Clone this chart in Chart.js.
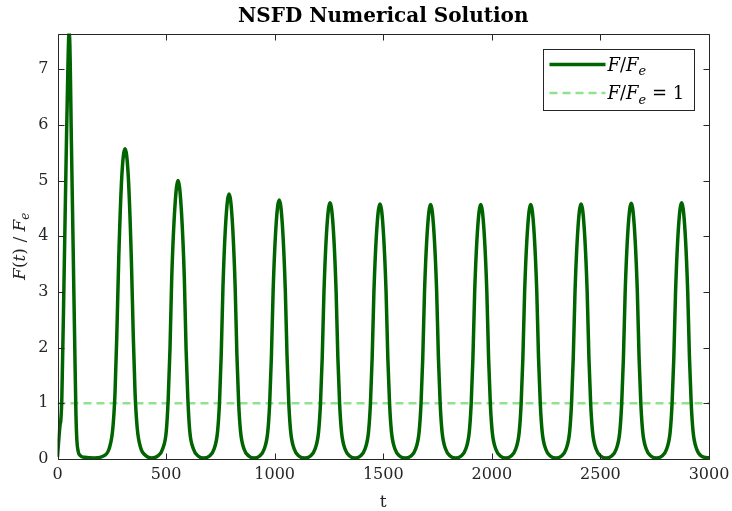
<!DOCTYPE html>
<html>
<head>
<meta charset="utf-8">
<script src="https://cdn.jsdelivr.net/npm/chart.js@4/dist/chart.umd.min.js"></script>
<style>
  html, body { margin: 0; padding: 0; background: #ffffff; }
  #wrap { width: 732px; height: 511px; }
</style>
</head>
<body>
<div id="wrap"><canvas id="chart" width="732" height="511"></canvas></div>
<script>
// NSFD solution F(t)/F_e, one row per pulse
const timeSteps = [
  0, 12, 15, 20, 30, 40, 48, 53, 56, 64, 72, 80, 85, 89, 95, 105, 125, 170,
  215, 239, 255, 265, 273, 282, 296, 311, 326, 340, 349, 357, 367, 383, 407, 433,
  461, 485, 501, 510, 518, 526, 541, 555, 569, 584, 592, 600, 609, 625, 649, 672,
  698, 721, 737, 746, 754, 762, 776, 790, 804, 818, 826, 834, 843, 859, 882, 906,
  929, 952, 968, 977, 985, 993, 1007, 1021, 1035, 1049, 1057, 1065, 1074, 1090, 1113, 1138,
  1163, 1186, 1202, 1211, 1219, 1227, 1241, 1255, 1269, 1283, 1291, 1299, 1308, 1324, 1347, 1370,
  1393, 1416, 1432, 1441, 1449, 1457, 1471, 1485, 1499, 1513, 1521, 1529, 1538, 1554, 1577, 1601,
  1626, 1649, 1665, 1674, 1682, 1690, 1704, 1718, 1732, 1746, 1754, 1762, 1771, 1787, 1810, 1833,
  1857, 1880, 1896, 1905, 1913, 1921, 1935, 1949, 1963, 1977, 1985, 1993, 2002, 2018, 2041, 2064,
  2087, 2110, 2126, 2135, 2143, 2151, 2165, 2179, 2193, 2207, 2215, 2223, 2232, 2248, 2271, 2295,
  2319, 2342, 2358, 2367, 2375, 2383, 2397, 2411, 2425, 2439, 2447, 2455, 2464, 2480, 2503, 2526,
  2550, 2573, 2589, 2598, 2606, 2614, 2628, 2642, 2656, 2670, 2678, 2686, 2695, 2711, 2734, 2758,
  2782, 2805, 2821, 2830, 2838, 2846, 2860, 2874, 2888, 2902, 2910, 2918, 2927, 2943, 2966, 3000
];
const forceRatio = [
  0.04, 0.62, 0.68, 1.10, 3.20, 5.45, 7.05, 7.64, 7.55, 5.70, 3.80, 1.90, 0.80, 0.35, 0.14, 0.06, 0.03, 0.02,
  0.06, 0.20, 0.56, 1.20, 2.20, 3.60, 5.07, 5.57, 5.07, 3.60, 2.20, 1.20, 0.56, 0.20, 0.06, 0.02,
  0.05, 0.19, 0.50, 1.10, 1.98, 3.25, 4.55, 5.00, 4.55, 3.25, 1.98, 1.10, 0.50, 0.19, 0.05, 0.02,
  0.05, 0.18, 0.49, 1.02, 1.88, 3.10, 4.33, 4.76, 4.33, 3.10, 1.88, 1.02, 0.49, 0.18, 0.05, 0.02,
  0.05, 0.18, 0.48, 1.00, 1.84, 3.03, 4.23, 4.65, 4.23, 3.03, 1.84, 1.00, 0.48, 0.18, 0.05, 0.02,
  0.05, 0.18, 0.48, 1.00, 1.82, 3.00, 4.19, 4.60, 4.19, 3.00, 1.82, 1.00, 0.48, 0.18, 0.05, 0.02,
  0.05, 0.18, 0.48, 1.00, 1.82, 3.00, 4.17, 4.58, 4.17, 3.00, 1.82, 1.00, 0.48, 0.18, 0.05, 0.02,
  0.05, 0.18, 0.48, 1.00, 1.82, 3.00, 4.16, 4.57, 4.16, 3.00, 1.82, 1.00, 0.48, 0.18, 0.05, 0.02,
  0.05, 0.18, 0.48, 1.00, 1.82, 3.00, 4.16, 4.57, 4.16, 3.00, 1.82, 1.00, 0.48, 0.18, 0.05, 0.02,
  0.05, 0.18, 0.48, 1.00, 1.82, 3.00, 4.16, 4.57, 4.16, 3.00, 1.82, 1.00, 0.48, 0.18, 0.05, 0.02,
  0.05, 0.18, 0.48, 1.00, 1.82, 3.00, 4.17, 4.58, 4.17, 3.00, 1.82, 1.00, 0.48, 0.18, 0.05, 0.02,
  0.05, 0.18, 0.48, 1.00, 1.82, 3.00, 4.18, 4.59, 4.18, 3.00, 1.82, 1.00, 0.48, 0.18, 0.05, 0.02,
  0.05, 0.18, 0.48, 1.00, 1.82, 3.00, 4.19, 4.60, 4.19, 3.00, 1.82, 1.00, 0.48, 0.18, 0.05, 0.02
];
// equilibrium reference line F/F_e = 1
const equilibriumT = [0, 3000];
const equilibriumF = [1, 1];

const xTicks = [0, 500, 1000, 1500, 2000, 2500, 3000];
const yTicks = [0, 1, 2, 3, 4, 5, 6, 7];

const SERIF = "'DejaVu Serif', 'Liberation Serif', serif";
const AXIS_COLOR = '#262626';

function toPoints(xs, ys) {
  return xs.map((x, i) => ({ x: x, y: ys[i] }));
}

// draws a small math string: letters italic, "_c" as italic subscript, rest upright
function mathTokens(str) {
  const out = [];
  for (let i = 0; i < str.length; i++) {
    const ch = str[i];
    if (ch === '_' && i + 1 < str.length) {
      out.push({ t: str[i + 1], italic: true, sub: true });
      i++;
    } else {
      out.push({ t: ch, italic: /[A-Za-z]/.test(ch), sub: false });
    }
  }
  return out;
}
function mathFont(tok, size) {
  const s = tok.sub ? Math.round(size * 0.7) : size;
  return (tok.italic ? 'italic ' : '') + s + 'px ' + SERIF;
}
function mathWidth(ctx, str, size) {
  let w = 0;
  for (const tok of mathTokens(str)) {
    ctx.font = mathFont(tok, size);
    w += ctx.measureText(tok.t).width;
  }
  return w;
}
function drawMath(ctx, str, x, y, size, align) {
  let cx = x;
  if (align === 'center') cx -= mathWidth(ctx, str, size) / 2;
  ctx.textBaseline = 'alphabetic';
  ctx.textAlign = 'left';
  for (const tok of mathTokens(str)) {
    ctx.font = mathFont(tok, size);
    ctx.fillText(tok.t, cx, y + (tok.sub ? size * 0.25 : 0));
    cx += ctx.measureText(tok.t).width;
  }
}

// axes box, inward ticks, y label and legend in the MATLAB style
const axesDecor = {
  id: 'axesDecor',
  afterDraw(chart) {
    const ctx = chart.ctx;
    const ca = chart.chartArea;
    const xs = chart.scales.x, ys = chart.scales.y;
    const L = Math.round(ca.left) + 0.5, R = Math.round(ca.right) + 0.5;
    const T = Math.round(ca.top) + 0.5, B = Math.round(ca.bottom) + 0.5;
    const tick = 6;
    ctx.save();
    ctx.strokeStyle = AXIS_COLOR;
    ctx.lineWidth = 1;
    ctx.beginPath();
    ctx.rect(L, T, R - L, B - T);
    for (const v of xTicks) {
      const px = Math.round(xs.getPixelForValue(v)) + 0.5;
      ctx.moveTo(px, B); ctx.lineTo(px, B - tick);
      ctx.moveTo(px, T); ctx.lineTo(px, T + tick);
    }
    for (const v of yTicks) {
      const py = Math.round(ys.getPixelForValue(v)) + 0.5;
      ctx.moveTo(L, py); ctx.lineTo(L + tick, py);
      ctx.moveTo(R, py); ctx.lineTo(R - tick, py);
    }
    ctx.stroke();

    // y-axis title
    ctx.fillStyle = AXIS_COLOR;
    ctx.save();
    ctx.translate(25, (ca.top + ca.bottom) / 2);
    ctx.rotate(-Math.PI / 2);
    drawMath(ctx, 'F(t) / F_e', 0, 0, 17, 'center');
    ctx.restore();

    // legend
    const bx = Math.round(ca.right) - 165.5, by = Math.round(ca.top) + 15.5;
    const bw = 151, bh = 61;
    ctx.fillStyle = '#ffffff';
    ctx.fillRect(bx, by, bw, bh);
    ctx.strokeStyle = AXIS_COLOR;
    ctx.lineWidth = 1;
    ctx.strokeRect(bx, by, bw, bh);
    chart.data.datasets.forEach((ds, i) => {
      const rowY = by + 15 + i * 28.5;
      ctx.save();
      ctx.strokeStyle = ds.borderColor;
      ctx.lineWidth = ds.borderWidth;
      ctx.setLineDash(ds.borderDash || []);
      ctx.beginPath();
      ctx.moveTo(bx + 6, rowY);
      ctx.lineTo(bx + 62, rowY);
      ctx.stroke();
      ctx.restore();
      ctx.fillStyle = '#000000';
      drawMath(ctx, ds.label, bx + 64, rowY + 6, 18, 'left');
    });
    ctx.restore();
  }
};

new Chart(document.getElementById('chart'), {
  type: 'line',
  data: {
    datasets: [
      {
        label: 'F/F_e',
        data: toPoints(timeSteps, forceRatio),
        borderColor: '#006400',
        borderWidth: 3.5,
        pointRadius: 0,
        cubicInterpolationMode: 'monotone',
        fill: false
      },
      {
        label: 'F/F_e = 1',
        data: toPoints(equilibriumT, equilibriumF),
        borderColor: 'rgb(144, 226, 144)',
        borderWidth: 2.5,
        borderDash: [8, 5],
        pointRadius: 0,
        fill: false
      }
    ]
  },
  options: {
    responsive: false,
    animation: false,
    devicePixelRatio: 1,
    layout: { padding: { left: 0, right: 23, top: 0, bottom: 0 } },
    plugins: {
      legend: { display: false },
      tooltip: { enabled: false },
      title: {
        display: true,
        fullSize: false,
        text: 'NSFD Numerical Solution',
        color: '#000000',
        font: { family: SERIF, size: 20, weight: 'bold', lineHeight: 1.2 },
        padding: { top: 5, bottom: 4.5 }
      }
    },
    scales: {
      x: {
        type: 'linear',
        min: 0,
        max: 3000,
        afterFit(s) { s.height = 52; s.paddingLeft = 0; s.paddingRight = 0; },
        afterBuildTicks(s) { s.ticks = xTicks.map(v => ({ value: v })); },
        grid: { display: false, drawTicks: false },
        border: { display: false },
        ticks: {
          padding: 6,
          color: AXIS_COLOR,
          maxRotation: 0,
          includeBounds: false,
          font: { family: SERIF, size: 16 },
          callback: v => String(v)
        },
        title: {
          display: true,
          text: 't',
          color: AXIS_COLOR,
          font: { family: SERIF, size: 17, lineHeight: 1.2 },
          padding: { top: 0, bottom: -2 }
        }
      },
      y: {
        type: 'linear',
        min: 0,
        max: 7.64,
        afterFit(s) { s.width = 57.5; s.paddingTop = 0; s.paddingBottom = 0; },
        afterBuildTicks(s) { s.ticks = yTicks.map(v => ({ value: v })); },
        grid: { display: false, drawTicks: false },
        border: { display: false },
        ticks: {
          padding: 9,
          color: AXIS_COLOR,
          includeBounds: false,
          font: { family: SERIF, size: 16 },
          callback: v => String(v)
        }
      }
    }
  },
  plugins: [axesDecor]
});
</script>
</body>
</html>
